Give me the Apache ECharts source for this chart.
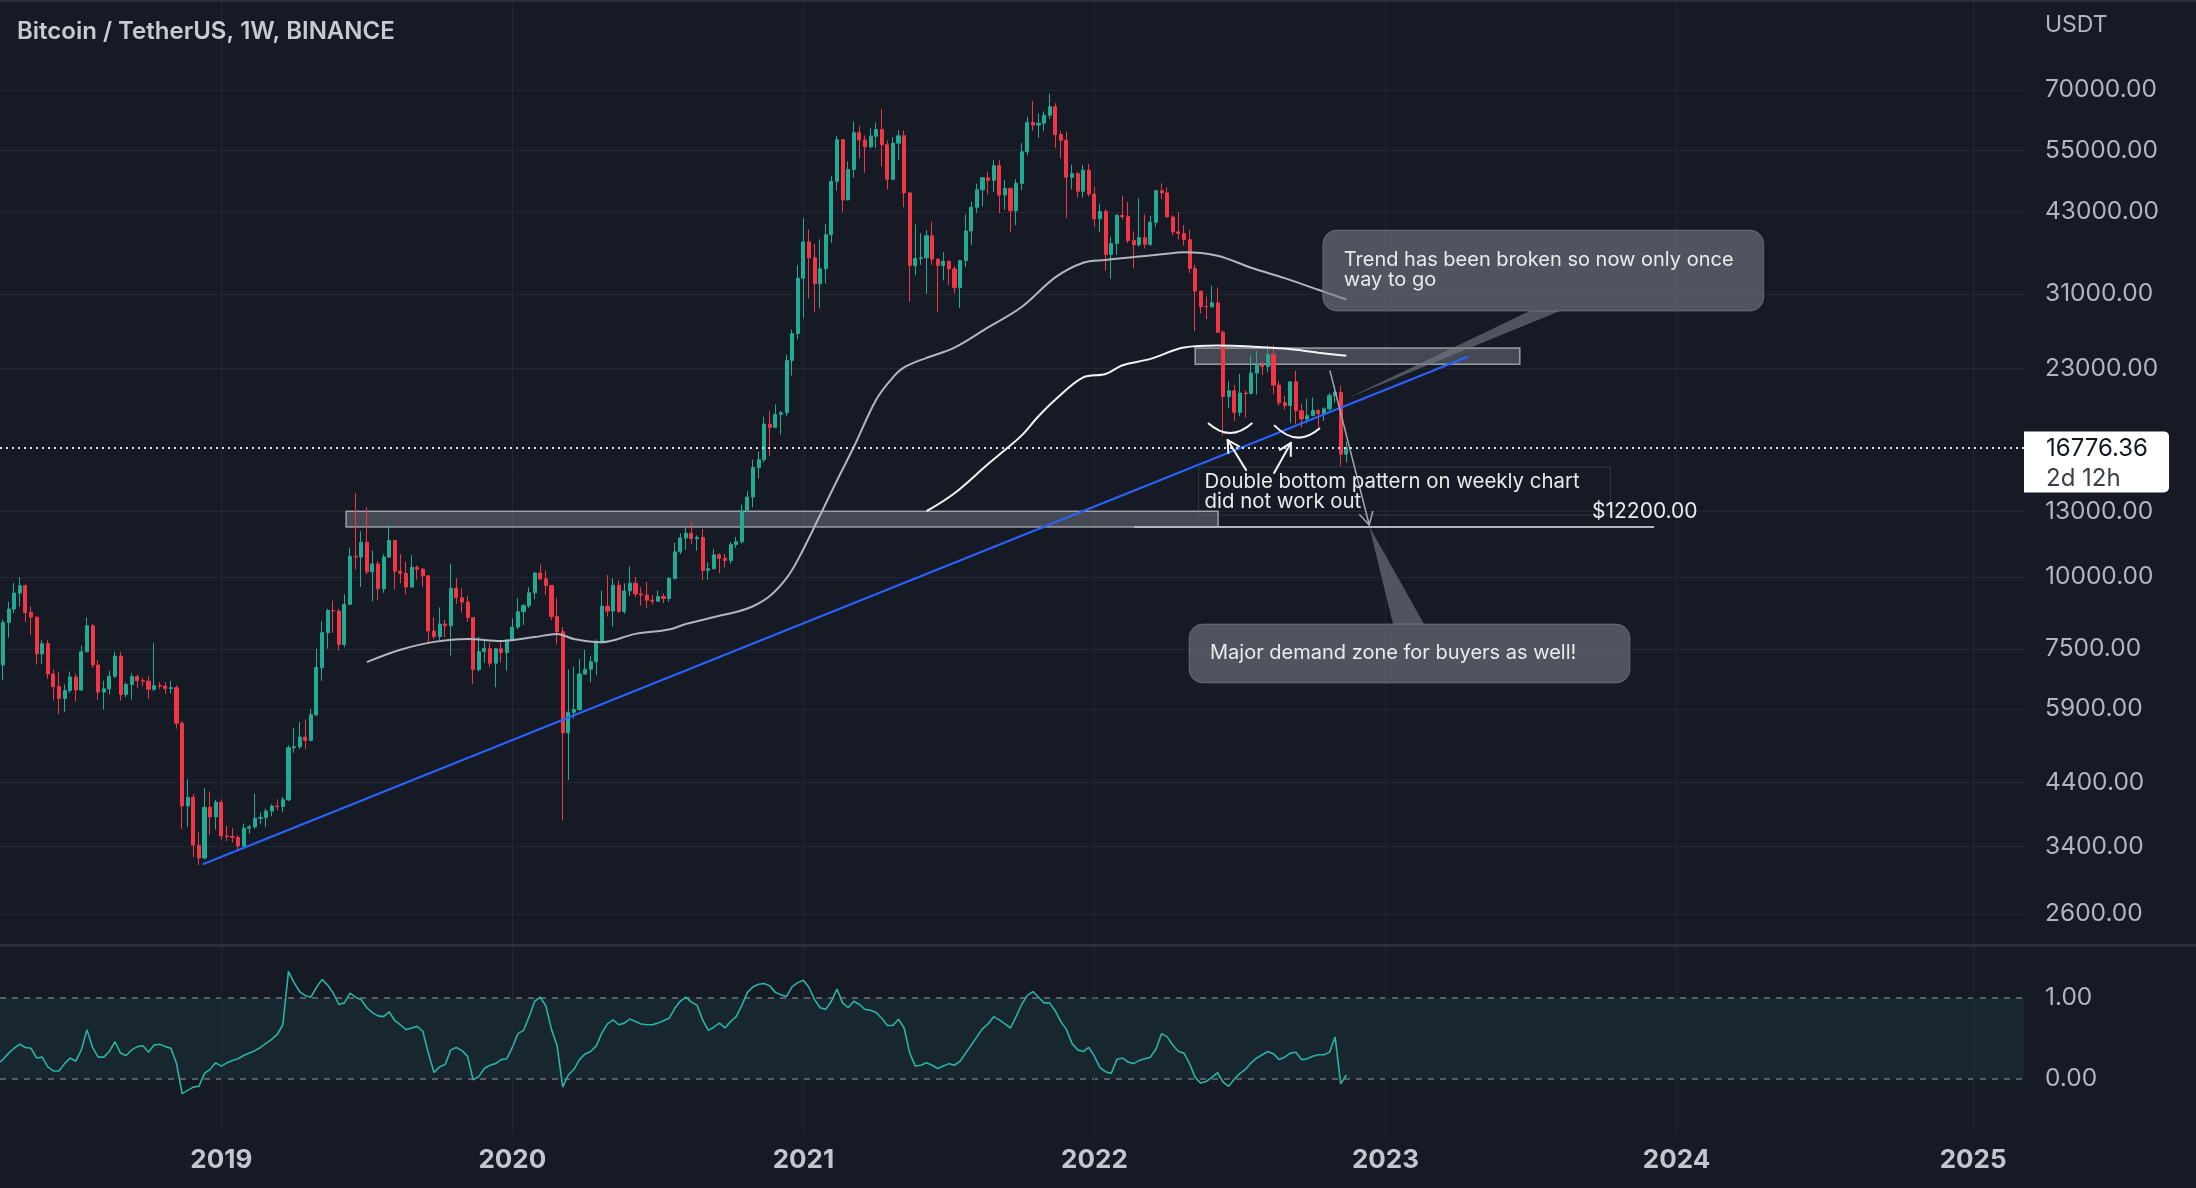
<!DOCTYPE html>
<html><head><meta charset="utf-8">
<script src="https://cdn.jsdelivr.net/npm/echarts@6/dist/echarts.min.js"></script>
<style>html,body{margin:0;padding:0;background:#161a25;overflow:hidden}#c{width:2196px;height:1188px}</style>
</head><body><div id="c"></div>
<script>
// ---------------- DATA ----------------
const firstWeek = '2018-04-02';          // weekly bars, one per Monday
// [open, high, low, close]
const ohlc = [
[6840,7530,6580,7030],[7030,8430,6620,8330],[8330,9050,7840,8790],[8790,9760,8650,9370],[9370,9990,8880,9650],
[9650,9700,8350,8670],[8670,8880,7920,8510],[8510,8540,7040,7350],[7350,7770,7060,7650],[7650,7760,6650,6780],
[6780,6900,6100,6450],[6450,6850,5780,6150],[6150,6500,5830,6350],[6350,6850,6290,6700],[6700,6800,6070,6360],
[6360,7600,6340,7410],[7410,8500,7400,8220],[8220,8280,6950,7030],[7030,7160,6120,6310],[6310,6600,5880,6390],
[6390,6870,6250,6720],[6720,7410,6670,7280],[7280,7410,6100,6250],[6250,6560,6180,6500],[6500,6800,6120,6710],
[6710,6770,6400,6600],[6600,6680,6460,6590],[6590,6720,6140,6380],[6380,7680,6330,6470],[6470,6560,6390,6460],
[6460,6560,6270,6400],[6400,6600,6270,6420],[6420,6480,5450,5570],[5570,5620,3650,4000],[4000,4450,3680,4140],
[4140,4200,3260,3420],[3420,3600,3160,3250],[3250,4300,3230,3980],[3980,4240,3560,3830],[3830,4100,3640,4060],
[4060,4110,3500,3550],[3550,3700,3480,3540],[3540,3660,3460,3530],[3530,3560,3350,3410],[3410,3730,3370,3660],
[3660,3710,3580,3680],[3680,4200,3650,3810],[3810,3900,3720,3820],[3820,3960,3680,3920],[3920,4030,3840,4000],
[4000,4110,3930,3990],[3990,4150,3900,4100],[4100,5100,4080,5050],[5050,5470,4950,5070],[5070,5600,5020,5270],
[5270,5650,5020,5200],[5200,5900,5180,5760],[5760,7500,5720,6960],[6960,8370,6600,8000],[8000,8800,7500,8740],
[8740,9090,8000,8720],[8720,8800,7450,7630],[7630,9330,7550,8960],[8960,11240,8950,10860],[10860,13970,10300,10820],
[10820,12000,9600,11480],[11480,13200,10100,10200],[10200,11100,9070,10530],[10530,10650,9100,9530],[9530,10960,9380,10820],
[10820,12320,10800,11560],[11560,11580,9500,10230],[10230,10950,9750,10140],[10140,10630,9330,9600],[9600,10900,9580,10390],
[10390,10470,9880,10310],[10310,10360,9600,10040],[10040,10050,7700,8050],[8050,8500,7800,7880],[7880,8850,7770,8280],
[8280,8420,7850,8220],[8220,10540,7300,9550],[9550,9950,8970,9200],[9200,9550,8670,9040],[9040,9270,8350,8500],
[8500,8500,6520,6900],[6900,7870,6850,7420],[7420,7750,7100,7510],[7510,7680,6970,7080],[7080,7520,6430,7500],
[7500,7700,7100,7390],[7390,7800,6870,7760],[7760,8470,7730,8180],[8180,9190,8110,8700],[8700,8980,8250,8910],
[8910,9590,8830,9380],[9380,10190,9140,10150],[10150,10500,9870,9920],[9920,10250,9300,9660],[9660,9680,8410,8530],
[8530,9190,7630,8030],[8030,8180,3780,5360],[5360,6900,4440,5820],[5820,6980,5680,5880],[5880,7200,5860,6780],
[6780,7470,6770,6910],[6910,7290,6560,7120],[7120,7790,6750,7690],[7690,9470,7650,8890],[8890,10070,8530,8720],
[8720,9950,8200,9670],[9670,9850,8650,8710],[8710,9740,8630,9450],[9450,10430,9260,9750],[9750,10000,9230,9340],
[9340,9590,8910,9300],[9300,9800,8830,9110],[9110,9300,8950,9070],[9070,9470,9050,9240],[9240,9350,9000,9170],
[9170,10000,9050,9930],[9930,11450,9900,11050],[11050,11900,10950,11680],[11680,12200,11130,11900],[11900,12470,11400,11650],
[11650,11800,11100,11700],[11700,12090,9880,10260],[10260,10600,9880,10330],[10330,11180,10300,10920],[10920,10990,10140,10770],
[10770,10950,10370,10670],[10670,11490,10530,11380],[11380,11730,11220,11500],[11500,13350,11420,13030],[13030,14100,12970,13760],
[13760,15970,13200,15480],[15480,16480,14800,15970],[15970,18950,15800,18410],[18410,19420,16200,18180],[18180,19920,18110,19150],
[19150,19420,17650,19270],[19270,24300,19000,23740],[23740,26870,22350,26440],[26440,34800,25850,33000],[33000,41950,28130,38150],
[38150,40100,30420,35790],[35790,37850,28850,32260],[32260,38530,29240,34260],[34260,41000,32300,39250],[39250,49710,37990,48580],
[48580,58350,46800,57410],[57410,57530,43000,45140],[45140,52640,45000,50970],[50970,61780,49270,59020],[59020,60630,53270,57350],
[57350,58400,50300,55790],[55790,60200,55470,58200],[58200,61500,55470,59770],[59770,64850,51540,56250],[56250,57200,47050,49000],
[49000,58000,48800,56600],[56600,59600,53000,58300],[58300,59600,43800,46400],[46400,46600,30000,34700],[34700,40900,33400,35700],
[35700,39500,34800,35800],[35800,40000,31000,39100],[39100,41330,34800,35600],[35600,35750,28800,34700],[34700,36600,32700,35290],
[35290,35400,32100,34240],[34240,34650,31020,31780],[31780,35500,29280,35400],[35400,42600,34500,39850],[39850,44800,37650,43800],
[43800,48150,42800,47000],[47000,49400,43990,49300],[49300,50500,46100,48800],[48800,52900,46600,51750],[51750,52900,42800,46000],
[46000,48850,43370,47260],[47260,47300,39600,43200],[43200,49000,40800,48200],[48200,56600,46900,54700],[54700,62930,53900,61530],
[61530,67000,59500,60850],[60850,63700,57800,61300],[61300,64270,59400,63300],[63300,69000,62300,65500],[65500,66400,55600,58600],
[58600,59400,53250,57270],[57270,59200,42000,49400],[49400,51950,47100,50100],[50100,50500,45500,46700],[46700,51870,45600,50800],
[50800,52100,45700,46200],[46200,47570,40500,41830],[41830,44450,39650,43100],[43100,43500,34000,36280],[36280,38950,32900,37900],
[37900,42660,36250,42410],[42410,45850,41700,42200],[42200,44750,38000,38350],[38350,39800,34320,37700],[37700,45400,37450,38800],
[38800,42600,37150,37780],[37780,42350,37550,41260],[41260,46900,40500,46820],[46820,48200,45200,46400],[46400,47450,42100,42150],
[42150,42400,39200,39700],[39700,42980,38530,39450],[39450,40800,37580,38470],[38470,40000,33700,34300],[34300,34800,26700,31330],
[31330,31350,28650,29450],[29450,30650,28000,29440],[29440,32000,29300,29900],[29900,31800,26550,26570],[26570,26800,17600,20560],
[20560,21870,19600,21030],[21030,21540,18620,19300],[19300,22500,19000,20850],[20850,21050,18900,20800],[20800,24280,20750,22580],
[22580,24670,20700,23300],[23300,23650,22400,23170],[23170,25210,22650,24300],[24300,25200,20760,21520],[21520,21860,19800,20050],
[20050,20600,19520,19830],[19830,21860,18500,21800],[21800,22800,18400,19420],[19420,19950,18150,18800],[18800,20380,18470,19050],
[19050,20480,19000,19440],[19440,19520,18200,19200],[19200,19700,18650,19570],[19570,20850,19240,20630],[20630,21480,20050,20900],
[20900,21450,15590,16330],[16330,17200,15800,16776.36]
];
// lower-pane oscillator, one value per weekly bar
const oscillator = [
0.19,0.24,0.32,0.38,0.43,0.39,0.38,0.26,0.27,0.15,0.10,0.10,0.19,0.26,0.22,0.36,0.61,0.39,0.27,0.27,
0.34,0.46,0.32,0.29,0.36,0.40,0.41,0.33,0.42,0.43,0.40,0.38,0.19,-0.18,-0.14,-0.10,-0.09,0.07,0.12,0.20,
0.16,0.20,0.23,0.25,0.29,0.32,0.35,0.39,0.44,0.49,0.55,0.67,1.33,1.19,1.08,1.03,1.01,1.13,1.23,1.16,
1.06,0.92,0.94,1.06,1.01,0.98,0.88,0.82,0.78,0.77,0.83,0.72,0.67,0.61,0.63,0.65,0.59,0.32,0.08,0.15,
0.18,0.36,0.39,0.35,0.28,-0.01,0.03,0.13,0.17,0.19,0.24,0.25,0.39,0.56,0.60,0.77,0.96,1.01,0.90,0.61,
0.41,-0.10,0.05,0.12,0.24,0.31,0.34,0.41,0.57,0.68,0.73,0.67,0.69,0.74,0.71,0.68,0.67,0.67,0.69,0.72,
0.75,0.87,0.96,1.01,0.95,0.91,0.73,0.60,0.64,0.69,0.63,0.71,0.77,0.91,1.07,1.14,1.17,1.18,1.15,1.07,
1.04,1.02,1.14,1.19,1.22,1.13,0.98,0.88,0.86,0.96,1.11,0.94,0.88,0.96,0.92,0.86,0.85,0.82,0.75,0.66,
0.66,0.74,0.63,0.32,0.16,0.17,0.20,0.17,0.13,0.16,0.19,0.17,0.22,0.32,0.42,0.52,0.62,0.68,0.77,0.73,
0.68,0.63,0.77,0.92,1.03,1.08,1.01,0.94,0.94,0.84,0.71,0.61,0.44,0.36,0.34,0.39,0.28,0.14,0.09,0.07,
0.24,0.26,0.21,0.19,0.23,0.25,0.27,0.37,0.56,0.52,0.42,0.34,0.32,0.19,0.02,-0.05,-0.03,0.02,0.08,-0.04,
-0.09,0.00,0.07,0.12,0.20,0.26,0.30,0.34,0.31,0.24,0.27,0.32,0.33,0.24,0.25,0.28,0.30,0.30,0.33,0.52,
-0.06,0.05
];
// moving-average curves (week index, price)
const maSlowWeek  = [66,72,78,84,90,96,100,103,108,114,120,123,129,132,135,138,141,143,147,150,153,157,160,162,166,171,177,183,189,194,198,203,208,212,218,224,230,236,241];
const maSlowValue = [7110,7470,7710,7800,7740,7860,7960,7800,7700,7960,8100,8280,8560,8690,8890,9260,9950,10700,12800,14700,16800,20300,22200,23100,24000,25000,27100,29400,33100,35100,35500,35900,36300,36600,36100,34400,33000,31500,30300];
const maFastWeek  = [166,171,177,180,183,186,189,194,198,201,206,212,218,224,230,236,241];
const maFastValue = [13000,13970,15700,16600,17600,19000,20300,22200,22500,23300,23900,25000,25200,25100,24900,24500,24200];
// axis ticks
const priceTicks = [70000,55000,43000,31000,23000,13000,10000,7500,5900,4400,3400,2600];
const oscTicks = [1, 0];
const yearBars = ['2019-01-07','2020-01-06','2021-01-04','2022-01-03','2023-01-02','2024-01-01','2025-01-06'];
const yearLabels = ['2019','2020','2021','2022','2023','2024','2025'];
const lastPrice = 16776.36;
const lastCountdown = '2d 12h';
const title = 'Bitcoin / TetherUS, 1W, BINANCE';
const currency = 'USDT';
// drawings (week index / price)
const zones = [[62.3, 218.1, 12200, 13000], [214.0, 272.0, 23400, 24950]];
const trendAnchors = [[36.7, 3170], [262.7, 24100]];
const targetLevel = {price: 12200, from: 203.1, to: 296.0, label: '$12200.00', labelAt: [284.9, 12990]};

// ---------------- LAYOUT ----------------
const WEEK = 7 * 86400000;
const t0 = Date.parse(firstWeek + 'T00:00:00Z');
const wt = i => t0 + i * WEEK;
const anchorT = Date.parse('2019-01-07T00:00:00Z');
const PXW = 5.597, ANCHOR_X = 221.3, PLOT_W = 2024;
const xMin = anchorT - ANCHOR_X / PXW * WEEK;
const xMax = anchorT + (PLOT_W - ANCHOR_X) / PXW * WEEK;
const FONT = 'Inter, "Noto Sans", sans-serif';
const UP = '#22ab94', DOWN = '#f23645';
const GRIDC = '#232733';
const AXIS_FS = 24.5;

const chart = echarts.init(document.getElementById('c'), null, {renderer: 'canvas', width: 2196, height: 1188});

const candleData = ohlc.map((r, i) => [wt(i), r[0], r[3], r[2], r[1]]);
const oscData = oscillator.map((v, i) => [wt(i), v]);
const slowData = maSlowWeek.map((w, k) => [wt(w), maSlowValue[k]]);
const fastData = maFastWeek.map((w, k) => [wt(w), maFastValue[k]]);
const yearT = yearBars.map(d => Date.parse(d + 'T00:00:00Z'));

const option = {
  backgroundColor: '#161a25',
  animation: false,
  grid: [
    {left: 0, right: 2196 - PLOT_W, top: 0, height: 945},
    {left: 0, right: 2196 - PLOT_W, top: 947, height: 185}
  ],
  xAxis: [
    {type: 'time', gridIndex: 0, min: xMin, max: xMax, show: false},
    {type: 'time', gridIndex: 1, min: xMin, max: xMax, show: false}
  ],
  yAxis: [
    {type: 'log', logBase: 10, gridIndex: 0, min: 2295, max: 100330, show: false, splitLine: {show: false}},
    {type: 'value', gridIndex: 1, min: -0.654, max: 1.63, show: false, splitLine: {show: false}}
  ],
  series: [
    { // price grid + year lines + price labels
      type: 'line', xAxisIndex: 0, yAxisIndex: 0, data: [[wt(0), 5000]], symbol: 'none',
      lineStyle: {opacity: 0}, clip: false, silent: true, z: 1,
      markLine: {
        z: 1, symbol: ['none', 'none'], silent: true, animation: false,
        data: priceTicks.map(p => ({
          yAxis: p, lineStyle: {color: GRIDC, width: 1, type: 'solid'},
          label: {show: true, position: 'end', distance: 21, formatter: p.toFixed(2), color: '#b2b5be', fontSize: AXIS_FS, fontFamily: FONT}
        })).concat(yearT.map(t => ({
          xAxis: t, lineStyle: {color: GRIDC, width: 1, type: 'solid'}, label: {show: false}
        })))
      }
    },
    { // zones
      type: 'line', xAxisIndex: 0, yAxisIndex: 0, data: [[wt(0), 5000]], symbol: 'none',
      lineStyle: {opacity: 0}, silent: true, z: 2,
      markArea: {
        z: 2, silent: true,
        itemStyle: {color: 'rgba(160,163,172,0.34)', borderColor: 'rgba(200,202,208,0.7)', borderWidth: 1.5},
        data: zones.map(z => [{coord: [wt(z[0]), z[3]]}, {coord: [wt(z[1]), z[2]]}])
      }
    },
    {
      type: 'candlestick', xAxisIndex: 0, yAxisIndex: 0, data: candleData, barWidth: 3.6, z: 3,
      itemStyle: {color: UP, color0: DOWN, borderColor: UP, borderColor0: DOWN, borderWidth: 1}
    },
    {
      type: 'line', xAxisIndex: 0, yAxisIndex: 0, data: slowData, symbol: 'none', smooth: 0.35, z: 4,
      lineStyle: {color: '#b2b5be', width: 2}
    },
    {
      type: 'line', xAxisIndex: 0, yAxisIndex: 0, data: fastData, symbol: 'none', smooth: 0.35, z: 4,
      lineStyle: {color: '#f2f3f5', width: 2}
    },
    { // trend line
      type: 'line', xAxisIndex: 0, yAxisIndex: 0, data: trendAnchors.map(a => [wt(a[0]), a[1]]),
      symbol: 'none', z: 7, lineStyle: {color: '#2962ff', width: 2}
    },
    { // target level
      type: 'line', xAxisIndex: 0, yAxisIndex: 0,
      data: [[wt(targetLevel.from), targetLevel.price], [wt(targetLevel.to), targetLevel.price]],
      symbol: 'none', z: 7, lineStyle: {color: '#b2b5be', width: 2}
    },
    { // last price dotted line
      type: 'line', xAxisIndex: 0, yAxisIndex: 0, data: [[wt(0), 5000]], symbol: 'none',
      lineStyle: {opacity: 0}, silent: true, z: 8,
      markLine: {z: 8, symbol: ['none', 'none'], silent: true, animation: false,
        data: [{yAxis: lastPrice, lineStyle: {color: '#e0e3eb', width: 2, type: [2, 4]}, label: {show: false}}]}
    },
    { // lower pane helpers
      type: 'line', xAxisIndex: 1, yAxisIndex: 1, data: [[wt(0), 0.5]], symbol: 'none',
      lineStyle: {opacity: 0}, clip: false, silent: true, z: 1,
      markArea: {z: 1, silent: true, itemStyle: {color: 'rgba(38,166,154,0.09)'},
        data: [[{coord: [xMin, 1]}, {coord: [xMax, 0]}]]},
      markLine: {
        z: 2, symbol: ['none', 'none'], silent: true, animation: false,
        data: oscTicks.map(v => ({
          yAxis: v, lineStyle: {color: '#6f727d', width: 1.5, type: [6, 6]},
          label: {show: true, position: 'end', distance: 21, formatter: v.toFixed(2), color: '#b2b5be', fontSize: AXIS_FS, fontFamily: FONT}
        })).concat(yearT.map((t, k) => ({
          xAxis: t, lineStyle: {color: GRIDC, width: 1, type: 'solid'},
          label: {show: true, position: 'start', distance: 15, formatter: yearLabels[k], color: '#c3c6ce', fontSize: 26, fontWeight: 'bold', fontFamily: FONT}
        })))
      }
    },
    {
      type: 'line', xAxisIndex: 1, yAxisIndex: 1, data: oscData, symbol: 'none', z: 3,
      lineStyle: {color: '#2ab3a3', width: 1.6}
    }
  ]
};
chart.setOption(option);

// ---------------- DRAWINGS (anchored through the chart's scales) ----------------
function P(w, price) { return chart.convertToPixel({gridIndex: 0}, [wt(w), price]); }
const TXT = '#e9eaee', BOX = 'rgba(120,123,134,0.6)', BOXLINE = 'rgba(170,172,180,0.35)';
const g = [];
function text(x, y, s, size, color, weight) {
  return {type: 'text', x: x, y: y, z: 60, silent: true,
    style: {text: s, fill: color || TXT, fontSize: size || 20, fontFamily: FONT, fontWeight: weight || 'normal', align: 'left', verticalAlign: 'middle'}};
}
function line(a, b, color, w) {
  return {type: 'line', z: 58, silent: true, shape: {x1: a[0], y1: a[1], x2: b[0], y2: b[1]}, style: {stroke: color, lineWidth: w, lineCap: 'round'}};
}
function arrow(a, b, color, w, len) {
  const ang = Math.atan2(b[1] - a[1], b[0] - a[0]);
  const h1 = [b[0] - len * Math.cos(ang - 0.5), b[1] - len * Math.sin(ang - 0.5)];
  const h2 = [b[0] - len * Math.cos(ang + 0.5), b[1] - len * Math.sin(ang + 0.5)];
  return [line(a, b, color, w), line(b, h1, color, w), line(b, h2, color, w)];
}

// callout 1
let a = P(236.8, 39990), tip = P(241.3, 20440);
g.push({type: 'polygon', z: 55, silent: true, shape: {points: [[a[0] + 207, a[1] + 81], [a[0] + 237, a[1] + 81], tip]}, style: {fill: BOX}});
g.push({type: 'rect', z: 56, silent: true, shape: {x: a[0], y: a[1], width: 441, height: 81, r: 14}, style: {fill: BOX, stroke: BOXLINE, lineWidth: 1}});
g.push(text(a[0] + 21, a[1] + 30, 'Trend has been broken so now only once'));
g.push(text(a[0] + 21, a[1] + 50, 'way to go'));

// callout 2
a = P(212.9, 8280); tip = P(245.1, 12230);
g.push({type: 'polygon', z: 55, silent: true, shape: {points: [[a[0] + 204, a[1]], [a[0] + 235, a[1]], tip]}, style: {fill: BOX}});
g.push({type: 'rect', z: 56, silent: true, shape: {x: a[0], y: a[1], width: 441, height: 59, r: 14}, style: {fill: BOX, stroke: BOXLINE, lineWidth: 1}});
g.push(text(a[0] + 21, a[1] + 29, 'Major demand zone for buyers as well!'));

// double bottom note
a = P(214.6, 15510);
g.push({type: 'rect', z: 54, silent: true, shape: {x: a[0], y: a[1], width: 412, height: 48}, style: {fill: 'rgba(0,0,0,0)', stroke: 'rgba(120,123,134,0.3)', lineWidth: 1}});
g.push(text(a[0] + 6, a[1] + 15, 'Double bottom pattern on weekly chart', 20.4));
g.push(text(a[0] + 6, a[1] + 35, 'did not work out', 20.4));

// arcs
[[216.3, 18490, 224.2, 18490, 20], [228.1, 18340, 236.3, 18120, 22]].forEach(c => {
  const L = P(c[0], c[1]), R = P(c[2], c[3]);
  g.push({type: 'bezierCurve', z: 58, silent: true,
    shape: {x1: L[0], y1: L[1], x2: R[0], y2: R[1], cpx1: (L[0] + R[0]) / 2, cpy1: (L[1] + R[1]) / 2 + c[4]},
    style: {stroke: '#f2f3f5', lineWidth: 2, fill: null}});
});
// white arrows
arrow(P(223.1, 15320), P(219.8, 17280), '#f2f3f5', 2, 13).forEach(e => g.push(e));
arrow(P(228.1, 15140), P(231.1, 17080), '#f2f3f5', 2, 13).forEach(e => g.push(e));
// grey arrow to target
arrow(P(238.1, 22760), P(245.1, 12300), '#a3a6af', 1.5, 14).forEach(e => g.push(e));

// target label
a = P(targetLevel.labelAt[0], targetLevel.labelAt[1]);
g.push(text(a[0], a[1], targetLevel.label, 21));

// last price tag
const yl = P(0, lastPrice)[1];
g.push({type: 'rect', z: 60, silent: true, shape: {x: 2024, y: yl - 16, width: 145, height: 61, r: [0, 5, 5, 0]}, style: {fill: '#ffffff'}});
g.push(text(2046, yl + 1, lastPrice.toFixed(2), 24, '#131722'));
g.push(text(2046, yl + 31, lastCountdown, 24, '#3c3f48'));

// header, currency, pane separator
g.push(text(17, 32, title, 24, '#c7cad1', 600));
g.push(text(2045, 25, currency, 23, '#b2b5be'));
g.push({type: 'line', z: 50, silent: true, shape: {x1: 0, y1: 945.5, x2: 2196, y2: 945.5}, style: {stroke: '#2a2e39', lineWidth: 3}});
g.push({type: 'line', z: 50, silent: true, shape: {x1: 0, y1: 1, x2: 2196, y2: 1}, style: {stroke: '#2a2e39', lineWidth: 2}});

chart.setOption({graphic: g});
</script>
</body></html>
